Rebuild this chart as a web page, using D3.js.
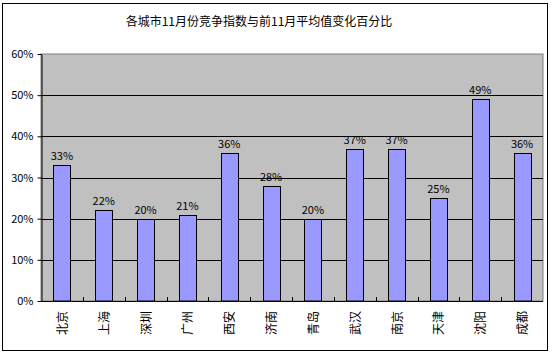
<!DOCTYPE html>
<html><head><meta charset="utf-8">
<script src="https://cdn.jsdelivr.net/npm/d3@7"></script>
<style>body{margin:0;background:#fff}</style>
</head><body>
<svg id="c" width="553" height="355"></svg>
<script>
const title = "各城市11月份竞争指数与前11月平均值变化百分比";
const categories = ["北京","上海","深圳","广州","西安","济南","青岛","武汉","南京","天津","沈阳","成都"];
const values = [33,22,20,21,36,28,20,37,37,25,49,36];
const yTicks = [0,10,20,30,40,50,60];

const svg = d3.select("#c");
const font = "'Noto Sans CJK SC', 'DejaVu Sans', sans-serif";
svg.append("rect").attr("x",2.5).attr("y",3.5).attr("width",545).attr("height",347)
  .attr("fill","#fff").attr("stroke","#000").attr("stroke-width",1);

const L=41, R=543, T=54, B=301;
const x = d3.scaleBand().domain(categories).range([L,R]).paddingInner(0);
const y = d3.scaleLinear().domain([0,60]).range([B,T]);

svg.append("rect").attr("x",L).attr("y",T).attr("width",R-L).attr("height",B-T)
  .attr("fill","#C0C0C0").attr("stroke","#808080").attr("stroke-width",1);

// gridlines
svg.append("g").selectAll("line").data(yTicks.filter(d=>d>0&&d<60)).join("line")
  .attr("x1",L).attr("x2",R).attr("y1",d=>Math.round(y(d))+0.5).attr("y2",d=>Math.round(y(d))+0.5)
  .attr("stroke","#000");

// y axis
const ya = svg.append("g").attr("transform",`translate(${L+0.5},0)`)
  .call(d3.axisLeft(y).tickValues(yTicks).tickFormat(d=>d+"%").tickSize(4).tickSizeOuter(0));
ya.select(".domain").attr("stroke","#000");
ya.selectAll("text").attr("font-family",font).attr("font-size",11).attr("fill","#000").attr("x",-8);

// bars
const bw = 17;
svg.append("g").selectAll("rect").data(values).join("rect")
  .attr("x",(d,i)=>Math.round(x(categories[i])+x.bandwidth()/2-bw/2)+0.5)
  .attr("y",d=>Math.round(y(d))+0.5)
  .attr("width",bw).attr("height",d=>Math.round(B-y(d))-0.5)
  .attr("fill","#9999FF").attr("stroke","#000");

// value labels
svg.append("g").selectAll("text").data(values).join("text")
  .attr("x",(d,i)=>x(categories[i])+x.bandwidth()/2)
  .attr("y",d=>y(d)-5)
  .attr("text-anchor","middle").attr("font-family",font).attr("font-size",11)
  .text(d=>d+"%");

// x axis line and ticks
svg.append("line").attr("x1",L).attr("x2",R).attr("y1",B+0.5).attr("y2",B+0.5).attr("stroke","#000");
svg.append("g").selectAll("line").data(categories.slice(1)).join("line")
  .attr("x1",d=>Math.round(x(d))+0.5).attr("x2",d=>Math.round(x(d))+0.5)
  .attr("y1",B).attr("y2",B-4).attr("stroke","#000");

// category labels (rotated)
svg.append("g").selectAll("text").data(categories).join("text")
  .attr("transform",d=>`translate(${x(d)+x.bandwidth()/2+5},${311}) rotate(-90)`)
  .attr("text-anchor","end").attr("font-family",font).attr("font-size",12)
  .text(d=>d);

svg.append("text").attr("x",259).attr("y",26).attr("text-anchor","middle")
  .attr("font-family",font).attr("font-size",12).text(title);
</script>
</body></html>
